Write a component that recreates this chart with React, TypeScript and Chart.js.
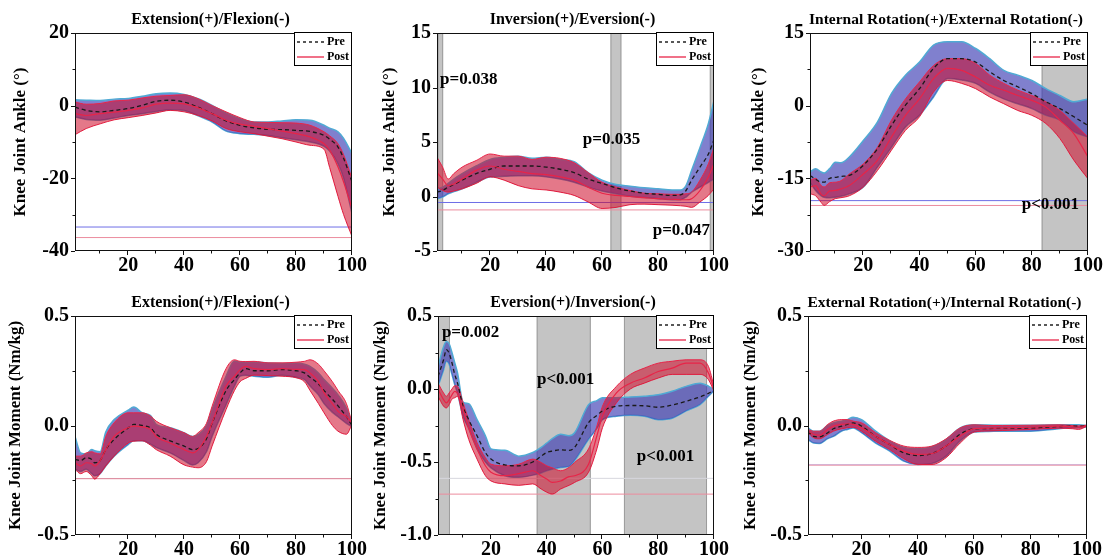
import React, { useEffect, useRef } from 'react';
import { Chart, registerables } from 'chart.js';

Chart.register(...registerables);

const FONT = '"Liberation Serif", "Times New Roman", serif';

// ---------- shared ----------
const X_TICKS = [20, 40, 60, 80, 100];
const X_MINOR = [10, 30, 50, 70, 90];
const LEGEND_LABELS = ['Pre', 'Post'];

// ---------- panel 1 : angle, sagittal ----------
const P1_TITLE = 'Extension(+)/Flexion(-)';
const P1_YLABEL = 'Knee Joint Ankle (°)';
const P1_Y_TICKS = [20, 0, -20, -40];
const P1_Y_MINOR = [10, -10, -30];
const P1_X = [1, 5, 10, 15, 20, 25, 30, 35, 40, 45, 50, 55, 60, 65, 70, 75, 80, 85, 90, 92, 95, 97, 100];
const P1_PRE_MEAN = [-0.4, -1.3, -1.7, -1.3, -0.8, 0.1, 1.2, 1.5, 1.0, -0.4, -2.2, -4.2, -5.4, -6.1, -6.5, -6.6, -6.8, -7.1, -8.2, -9.2, -11.4, -14.5, -21];
const P1_PRE_UP = [1.6, 1.5, 1.4, 1.8, 2.0, 2.6, 3.3, 3.5, 3.1, 1.9, 0.1, -2.0, -3.6, -4.5, -4.5, -4.2, -3.9, -4.0, -5.4, -6.2, -7.2, -9.0, -13.2];
const P1_PRE_LO = [-3.1, -3.8, -4.0, -3.4, -2.7, -2.2, -1.6, -1.1, -1.3, -2.8, -4.5, -7.0, -7.7, -7.9, -8.2, -8.8, -9.4, -10.0, -11.2, -12.5, -16.0, -20.0, -29.7];
const P1_POST_MEAN = [-2.2, -2.7, -2.2, -1.8, -1.3, -0.6, 0.4, 0.7, 0.5, -0.6, -2.2, -4.0, -5.1, -5.7, -6.3, -7.0, -7.7, -8.6, -10.5, -12.2, -16.9, -21.0, -28.3];
const P1_POST_UP = [1.0, 0.4, 0.6, 1.3, 1.5, 2.1, 2.6, 2.8, 3.0, 1.9, 0.0, -1.7, -3.3, -4.5, -4.6, -4.7, -4.8, -5.4, -7.2, -8.3, -10.5, -13.5, -20.0];
const P1_POST_LO = [-8.0, -6.3, -5.0, -3.9, -3.3, -2.7, -2.0, -1.3, -1.7, -2.7, -4.2, -6.3, -7.2, -7.7, -8.4, -9.1, -10.0, -10.9, -12.0, -17.0, -25.0, -30.0, -36.0];
const P1_THRESH = [-33.4, -36.3];
const P1_SHADE: number[][] = [];
const P1_PVALUES: { text: string; x: number; y: number }[] = [];

// ---------- panel 2 : angle, frontal ----------
const P2_TITLE = 'Inversion(+)/Eversion(-)';
const P2_YLABEL = 'Knee Joint Ankle (°)';
const P2_Y_TICKS = [15, 10, 5, 0, -5];
const P2_Y_MINOR: number[] = [];
const P2_X = [1, 3, 5, 7, 10, 15, 20, 25, 30, 35, 40, 45, 50, 55, 60, 65, 70, 75, 80, 85, 88, 90, 92, 95, 98, 100];
const P2_PRE_MEAN = [0.4, 0.55, 0.86, 1.1, 1.5, 2.1, 2.5, 2.8, 2.8, 2.8, 2.7, 2.5, 2.2, 1.6, 1.2, 0.8, 0.5, 0.3, 0.2, 0.1, 0.15, 0.55, 1.5, 2.7, 3.9, 5.2];
const P2_PRE_UP = [0.7, 0.85, 1.2, 1.6, 2.1, 2.8, 3.4, 3.6, 3.7, 3.5, 3.6, 3.4, 3.2, 2.2, 1.5, 1.1, 0.95, 0.8, 0.7, 0.6, 0.6, 1.0, 2.4, 4.5, 6.7, 8.8];
const P2_PRE_LO = [-0.2, -0.05, 0.25, 0.45, 0.7, 1.3, 1.8, 1.85, 1.9, 1.9, 1.8, 1.6, 1.3, 0.86, 0.5, 0.25, 0.03, -0.1, -0.2, -0.3, -0.3, -0.05, 0.4, 0.86, 1.3, 1.6];
const P2_POST_MEAN = [2.2, 1.6, 1.0, 1.15, 1.6, 2.4, 2.8, 2.5, 2.3, 2.1, 2.0, 1.8, 1.5, 0.86, 0.3, 0.1, 0.0, -0.1, -0.2, -0.25, -0.3, -0.3, -0.2, 0.55, 1.8, 3.0];
const P2_POST_UP = [3.6, 2.7, 1.6, 2.1, 2.7, 3.3, 3.9, 3.7, 3.7, 3.4, 3.6, 3.5, 3.1, 2.2, 1.3, 0.86, 0.55, 0.3, 0.25, 0.2, 0.2, 0.25, 0.4, 1.5, 3.0, 4.5];
const P2_POST_LO = [0.86, 0.55, 0.4, 0.5, 0.7, 1.2, 1.8, 1.5, 1.0, 0.7, 0.6, 0.4, 0.1, -0.5, -1.1, -1.0, -0.75, -0.7, -0.75, -0.8, -0.85, -0.9, -1.0, -0.5, 0.1, 0.7];
const P2_THRESH = [-0.55, -1.23];
const P2_SHADE = [[1.2, 3.2], [63.0, 66.9], [98.5, 100]];
const P2_PVALUES = [
  { text: 'p=0.038', x: 2.1, y: 10.7 },
  { text: 'p=0.035', x: 53.1, y: 5.2 },
  { text: 'p=0.047', x: 78.1, y: -3.1 },
];

// ---------- panel 3 : angle, transverse ----------
const P3_TITLE = 'Internal Rotation(+)/External Rotation(-)';
const P3_YLABEL = 'Knee Joint Ankle (°)';
const P3_Y_TICKS = [15, 0, -15, -30];
const P3_Y_MINOR = [7.5, -7.5, -22.5];
const P3_X = [1, 3, 5, 6, 8, 10, 12, 15, 20, 25, 30, 35, 40, 45, 50, 55, 60, 65, 70, 75, 80, 85, 90, 95, 100];
const P3_PRE_MEAN = [-14.4, -15.2, -15.8, -15.8, -15.0, -14.8, -14.6, -14.4, -12.3, -8.9, -4.1, 0.1, 3.5, 7.7, 9.7, 9.7, 9.0, 7.0, 5.2, 3.9, 2.5, 0.8, -0.6, -2.3, -4.1];
const P3_PRE_UP = [-13.7, -13.0, -13.7, -13.9, -13.0, -11.7, -11.8, -10.6, -7.2, -3.4, 2.5, 6.3, 9.0, 12.5, 13.2, 13.2, 11.8, 9.7, 7.3, 6.3, 5.2, 3.5, 2.1, 0.8, 1.4];
const P3_PRE_LO = [-15.8, -17.5, -18.6, -18.9, -19.0, -18.9, -18.7, -18.2, -16.8, -12.7, -8.6, -4.4, -2.0, 1.8, 5.6, 5.3, 4.6, 2.8, 1.4, 0.4, -0.6, -2.0, -3.0, -5.4, -6.5];
const P3_POST_MEAN = [-16.8, -16.5, -18.3, -18.6, -17.6, -17.5, -17.2, -16.5, -14.1, -11.3, -6.5, -2.0, 1.4, 5.6, 7.7, 7.3, 5.9, 4.2, 3.2, 2.1, 1.1, -0.3, -3.0, -5.8, -10.6];
const P3_POST_UP = [-15.4, -15.0, -16.5, -16.8, -15.9, -15.8, -15.5, -14.1, -12.0, -8.6, -3.0, 1.4, 4.9, 8.3, 9.7, 9.7, 8.7, 6.3, 4.6, 3.2, 2.1, 0.8, -1.0, -3.7, -6.5];
const P3_POST_LO = [-18.2, -18.6, -20.0, -20.6, -19.8, -19.2, -19.0, -18.6, -16.8, -13.4, -9.2, -5.1, -2.3, 2.8, 5.2, 4.6, 3.5, 1.8, 0.4, -1.0, -2.0, -3.7, -6.8, -11.3, -15.1];
const P3_THRESH = [-19.6, -20.6];
const P3_SHADE = [[83.5, 100]];
const P3_PVALUES = [{ text: 'p<0.001', x: 76.4, y: -20.5 }];

// ---------- panel 4 : moment, sagittal ----------
const P4_TITLE = 'Extension(+)/Flexion(-)';
const P4_YLABEL = 'Knee Joint Moment (Nm/kg)';
const P4_Y_TICKS = [0.5, 0, -0.5];
const P4_Y_MINOR = [0.25, -0.25];
const P4_X = [1, 3, 5, 7, 8, 10, 12, 15, 20, 22, 25, 28, 30, 35, 40, 43, 45, 48, 50, 55, 58, 60, 62, 65, 70, 75, 80, 83, 85, 88, 90, 93, 95, 98, 100];
const P4_PRE_MEAN = [-0.155, -0.16, -0.147, -0.155, -0.17, -0.16, -0.11, -0.064, -0.011, 0.005, 0.0, -0.011, -0.04, -0.07, -0.094, -0.11, -0.105, -0.06, 0.01, 0.16, 0.21, 0.24, 0.26, 0.25, 0.25, 0.255, 0.25, 0.24, 0.22, 0.19, 0.16, 0.12, 0.09, 0.04, 0.0];
const P4_PRE_UP = [-0.05, -0.125, -0.13, -0.11, -0.115, -0.12, -0.03, 0.027, 0.07, 0.084, 0.058, 0.045, 0.005, -0.01, -0.033, -0.05, -0.042, 0.0, 0.073, 0.225, 0.295, 0.29, 0.29, 0.29, 0.285, 0.283, 0.285, 0.28, 0.27, 0.24, 0.21, 0.17, 0.14, 0.08, 0.01];
const P4_PRE_LO = [-0.2, -0.21, -0.2, -0.22, -0.23, -0.22, -0.185, -0.14, -0.087, -0.07, -0.07, -0.085, -0.1, -0.125, -0.16, -0.18, -0.17, -0.12, -0.05, 0.095, 0.18, 0.225, 0.23, 0.225, 0.22, 0.23, 0.22, 0.21, 0.18, 0.14, 0.1, 0.06, 0.04, 0.01, -0.005];
const P4_POST_MEAN = [-0.17, -0.185, -0.17, -0.175, -0.185, -0.16, -0.11, -0.05, -0.01, -0.003, -0.006, -0.018, -0.05, -0.08, -0.11, -0.125, -0.11, -0.05, 0.012, 0.18, 0.225, 0.255, 0.27, 0.26, 0.255, 0.26, 0.256, 0.255, 0.24, 0.2, 0.15, 0.1, 0.065, 0.04, 0.012];
const P4_POST_UP = [-0.14, -0.14, -0.125, -0.12, -0.125, -0.13, -0.05, 0.012, 0.058, 0.058, 0.058, 0.043, 0.02, -0.01, -0.033, -0.05, -0.033, 0.01, 0.088, 0.26, 0.3, 0.293, 0.292, 0.293, 0.286, 0.286, 0.289, 0.293, 0.3, 0.28, 0.25, 0.2, 0.16, 0.1, 0.012];
const P4_POST_LO = [-0.2, -0.22, -0.21, -0.23, -0.245, -0.22, -0.185, -0.14, -0.08, -0.072, -0.07, -0.09, -0.11, -0.14, -0.18, -0.19, -0.193, -0.165, -0.094, 0.073, 0.16, 0.2, 0.215, 0.23, 0.228, 0.225, 0.218, 0.2, 0.16, 0.1, 0.058, 0.0, -0.026, -0.04, 0.005];
const P4_THRESH = [-0.242, -0.243];
const P4_SHADE: number[][] = [];
const P4_PVALUES: { text: string; x: number; y: number }[] = [];

// ---------- panel 5 : moment, frontal ----------
const P5_TITLE = 'Eversion(+)/Inversion(-)';
const P5_YLABEL = 'Knee Joint Moment (Nm/kg)';
const P5_Y_TICKS = [0.5, 0, -0.5, -1.0];
const P5_Y_MINOR = [0.25, -0.25, -0.75];
const P5_X = [1, 3, 4, 5, 6, 7, 8, 10, 12, 15, 18, 20, 25, 30, 35, 38, 40, 42, 45, 48, 50, 55, 58, 60, 65, 70, 75, 80, 85, 90, 95, 98, 100];
const P5_PRE_MEAN = [0.086, 0.2, 0.27, 0.245, 0.18, 0.1, 0.04, -0.12, -0.21, -0.32, -0.435, -0.48, -0.52, -0.526, -0.5, -0.46, -0.435, -0.425, -0.417, -0.42, -0.4, -0.23, -0.18, -0.15, -0.118, -0.113, -0.115, -0.125, -0.11, -0.084, -0.054, -0.03, -0.005];
const P5_PRE_UP = [0.154, 0.29, 0.325, 0.31, 0.25, 0.18, 0.11, -0.09, -0.1, -0.21, -0.32, -0.41, -0.42, -0.46, -0.435, -0.4, -0.37, -0.34, -0.31, -0.32, -0.3, -0.107, -0.08, -0.06, -0.06, -0.054, -0.05, -0.04, -0.015, 0.018, 0.04, 0.02, -0.005];
const P5_PRE_LO = [0.018, 0.13, 0.19, 0.17, 0.1, 0.03, -0.03, -0.186, -0.27, -0.41, -0.5, -0.54, -0.594, -0.605, -0.59, -0.575, -0.56, -0.55, -0.537, -0.53, -0.49, -0.345, -0.27, -0.21, -0.186, -0.18, -0.186, -0.21, -0.2, -0.15, -0.107, -0.05, -0.01];
const P5_POST_MEAN = [0.0, -0.073, -0.095, -0.073, -0.04, -0.016, -0.03, -0.14, -0.265, -0.41, -0.526, -0.57, -0.594, -0.58, -0.56, -0.594, -0.617, -0.64, -0.63, -0.6, -0.594, -0.515, -0.32, -0.186, -0.027, 0.04, 0.075, 0.12, 0.143, 0.177, 0.177, 0.11, 0.0];
const P5_POST_UP = [0.04, -0.027, -0.05, -0.027, 0.0, 0.022, 0.018, -0.095, -0.21, -0.367, -0.47, -0.515, -0.526, -0.515, -0.48, -0.503, -0.526, -0.54, -0.56, -0.537, -0.503, -0.41, -0.254, -0.118, 0.018, 0.1, 0.143, 0.177, 0.19, 0.2, 0.2, 0.155, 0.018];
const P5_POST_LO = [-0.05, -0.118, -0.13, -0.107, -0.07, -0.06, -0.05, -0.21, -0.345, -0.48, -0.594, -0.63, -0.65, -0.66, -0.65, -0.685, -0.707, -0.72, -0.685, -0.66, -0.64, -0.57, -0.41, -0.265, -0.095, 0.0, 0.04, 0.075, 0.1, 0.1, 0.1, 0.064, -0.016];
const P5_THRESH = [-0.612, -0.72];
const P5_SHADE = [[1, 5.3], [36.4, 55.8], [67.7, 97.5]];
const P5_PVALUES = [
  { text: 'p=0.002', x: 2.4, y: 0.384 },
  { text: 'p<0.001', x: 36.5, y: 0.062 },
  { text: 'p<0.001', x: 72.3, y: -0.466 },
];

// ---------- panel 6 : moment, transverse ----------
const P6_TITLE = 'External Rotation(+)/Internal Rotation(-)';
const P6_YLABEL = 'Knee Joint Moment (Nm/kg)';
const P6_Y_TICKS = [0.5, 0, -0.5];
const P6_Y_MINOR = [0.25, -0.25];
const P6_X = [1, 3, 5, 8, 10, 13, 15, 17, 20, 25, 30, 35, 40, 45, 50, 55, 60, 65, 70, 80, 90, 95, 97, 100];
const P6_PRE_MEAN = [-0.026, -0.05, -0.052, -0.033, -0.015, -0.003, 0.005, 0.012, -0.003, -0.05, -0.087, -0.125, -0.137, -0.128, -0.094, -0.04, -0.015, -0.014, -0.012, -0.011, -0.005, -0.003, -0.003, -0.003];
const P6_PRE_UP = [-0.011, -0.026, -0.026, 0.0, 0.012, 0.02, 0.027, 0.038, 0.027, -0.026, -0.07, -0.1, -0.106, -0.097, -0.064, -0.011, 0.003, 0.002, 0.001, 0.001, 0.003, 0.003, 0.003, 0.0];
const P6_PRE_LO = [-0.064, -0.08, -0.082, -0.06, -0.05, -0.025, -0.018, -0.011, -0.033, -0.08, -0.117, -0.163, -0.178, -0.173, -0.14, -0.07, -0.03, -0.027, -0.026, -0.026, -0.015, -0.01, -0.01, -0.006];
const P6_POST_MEAN = [-0.026, -0.04, -0.045, -0.018, -0.003, 0.005, 0.008, 0.005, -0.011, -0.05, -0.087, -0.117, -0.132, -0.128, -0.094, -0.048, -0.014, -0.012, -0.011, -0.008, -0.003, -0.006, -0.008, -0.003];
const P6_POST_UP = [-0.018, -0.026, -0.026, 0.005, 0.02, 0.027, 0.027, 0.02, 0.012, -0.033, -0.068, -0.094, -0.1, -0.094, -0.061, -0.011, 0.003, 0.0, 0.0, 0.001, 0.003, 0.0, -0.002, 0.002];
const P6_POST_LO = [-0.033, -0.056, -0.061, -0.041, -0.026, -0.015, -0.01, -0.008, -0.026, -0.072, -0.11, -0.152, -0.178, -0.178, -0.147, -0.08, -0.03, -0.025, -0.023, -0.018, -0.012, -0.015, -0.018, -0.003];
const P6_THRESH = [-0.179, -0.181];
const P6_SHADE: number[][] = [];
const P6_PVALUES: { text: string; x: number; y: number }[] = [];

// ---------- styles ----------
const RED = 'rgb(232,36,72)';
const TEAL = 'rgb(80,170,212)';
const PRE_FILL = 'rgba(60,60,180,0.65)';
const POST_FILL = 'rgba(205,10,40,0.55)';
const THRESH_PRE = ['rgb(110,110,230)', 'rgb(110,110,230)', 'rgb(110,110,230)', 'rgb(170,170,190)', 'rgb(215,215,222)', 'rgb(190,190,240)'];
const THRESH_POST = 'rgb(236,140,158)';

interface Pv { text: string; x: number; y: number }
interface PanelCfg {
  title: string; titleSize: number; ylabel: string; yTicks: number[]; yMinor: number[]; decimals: number;
  x: number[]; preM: number[]; preU: number[]; preL: number[]; postM: number[]; postU: number[]; postL: number[];
  thresh: number[]; threshPre: string; shade: number[][]; pv: Pv[];
  col: number; row: number; area: { l: number; r: number; t: number; b: number }; ylabelX: number;
}

const PANELS: PanelCfg[] = [
  { title: P1_TITLE, titleSize: 16, ylabel: P1_YLABEL, yTicks: P1_Y_TICKS, yMinor: P1_Y_MINOR, decimals: 0, x: P1_X, preM: P1_PRE_MEAN, preU: P1_PRE_UP, preL: P1_PRE_LO, postM: P1_POST_MEAN, postU: P1_POST_UP, postL: P1_POST_LO, thresh: P1_THRESH, threshPre: THRESH_PRE[0], shade: P1_SHADE, pv: P1_PVALUES, col: 0, row: 0, area: { l: 75, r: 352, t: 33, b: 251 }, ylabelX: 21 },
  { title: P2_TITLE, titleSize: 16, ylabel: P2_YLABEL, yTicks: P2_Y_TICKS, yMinor: P2_Y_MINOR, decimals: 0, x: P2_X, preM: P2_PRE_MEAN, preU: P2_PRE_UP, preL: P2_PRE_LO, postM: P2_POST_MEAN, postU: P2_POST_UP, postL: P2_POST_LO, thresh: P2_THRESH, threshPre: THRESH_PRE[1], shade: P2_SHADE, pv: P2_PVALUES, col: 1, row: 0, area: { l: 67, r: 344, t: 33, b: 251 }, ylabelX: 20 },
  { title: P3_TITLE, titleSize: 15.5, ylabel: P3_YLABEL, yTicks: P3_Y_TICKS, yMinor: P3_Y_MINOR, decimals: 0, x: P3_X, preM: P3_PRE_MEAN, preU: P3_PRE_UP, preL: P3_PRE_LO, postM: P3_POST_MEAN, postU: P3_POST_UP, postL: P3_POST_LO, thresh: P3_THRESH, threshPre: THRESH_PRE[2], shade: P3_SHADE, pv: P3_PVALUES, col: 2, row: 0, area: { l: 70, r: 348, t: 33, b: 251 }, ylabelX: 19 },
  { title: P4_TITLE, titleSize: 16, ylabel: P4_YLABEL, yTicks: P4_Y_TICKS, yMinor: P4_Y_MINOR, decimals: 1, x: P4_X, preM: P4_PRE_MEAN, preU: P4_PRE_UP, preL: P4_PRE_LO, postM: P4_POST_MEAN, postU: P4_POST_UP, postL: P4_POST_LO, thresh: P4_THRESH, threshPre: THRESH_PRE[3], shade: P4_SHADE, pv: P4_PVALUES, col: 0, row: 1, area: { l: 75, r: 352, t: 36, b: 255 }, ylabelX: 16 },
  { title: P5_TITLE, titleSize: 16, ylabel: P5_YLABEL, yTicks: P5_Y_TICKS, yMinor: P5_Y_MINOR, decimals: 1, x: P5_X, preM: P5_PRE_MEAN, preU: P5_PRE_UP, preL: P5_PRE_LO, postM: P5_POST_MEAN, postU: P5_POST_UP, postL: P5_POST_LO, thresh: P5_THRESH, threshPre: THRESH_PRE[4], shade: P5_SHADE, pv: P5_PVALUES, col: 1, row: 1, area: { l: 68, r: 344, t: 36, b: 255 }, ylabelX: 11 },
  { title: P6_TITLE, titleSize: 15.5, ylabel: P6_YLABEL, yTicks: P6_Y_TICKS, yMinor: P6_Y_MINOR, decimals: 1, x: P6_X, preM: P6_PRE_MEAN, preU: P6_PRE_UP, preL: P6_PRE_LO, postM: P6_POST_MEAN, postU: P6_POST_UP, postL: P6_POST_LO, thresh: P6_THRESH, threshPre: THRESH_PRE[5], shade: P6_SHADE, pv: P6_PVALUES, col: 2, row: 1, area: { l: 68, r: 347, t: 36, b: 255 }, ylabelX: 11 },
];

const W = 370;
const H = 280;
const YAXIS_W = 50;
const XAXIS_H = 25;

function makeChart(canvas: HTMLCanvasElement, p: PanelCfg) {
  const pts = (ys: number[]) => p.x.map((x, i) => ({ x, y: ys[i] }));
  const xMin = p.x[0];
  const xMax = p.x[p.x.length - 1];
  const flat = (v: number) => [{ x: xMin, y: v }, { x: xMax, y: v }];
  const yMax = Math.max(...p.yTicks);
  const yMin = Math.min(...p.yTicks);
  const tickFont = { family: FONT, size: 20, weight: 'bold' as const };

  const decor = {
    id: 'decor',
    beforeDatasetsDraw(chart: any) {
      const { ctx, chartArea: a, scales } = chart;
      const xs = scales.x;
      ctx.save();
      for (const [s, e] of p.shade) {
        const x0 = xs.getPixelForValue(s);
        const x1 = xs.getPixelForValue(e);
        ctx.fillStyle = '#c4c4c4';
        ctx.fillRect(x0, a.top, x1 - x0, a.bottom - a.top);
        ctx.strokeStyle = '#9c9c9c';
        ctx.lineWidth = 1;
        ctx.beginPath();
        ctx.moveTo(x0 + 0.5, a.top);
        ctx.lineTo(x0 + 0.5, a.bottom);
        ctx.moveTo(x1 - 0.5, a.top);
        ctx.lineTo(x1 - 0.5, a.bottom);
        ctx.stroke();
      }
      ctx.restore();
    },
    afterDraw(chart: any) {
      const { ctx, chartArea: a, scales } = chart;
      const xs = scales.x;
      const ys = scales.y;
      ctx.save();
      // frame
      ctx.strokeStyle = '#111';
      ctx.lineWidth = 1;
      ctx.strokeRect(Math.round(a.left) + 0.5, Math.round(a.top) + 0.5, Math.round(a.right - a.left) - 1, Math.round(a.bottom - a.top) - 1);
      // ticks
      ctx.beginPath();
      for (const v of X_TICKS) {
        const px = Math.round(xs.getPixelForValue(v)) - 0.5;
        ctx.moveTo(px, a.bottom);
        ctx.lineTo(px, a.bottom + 4);
      }
      for (const v of X_MINOR) {
        const px = Math.round(xs.getPixelForValue(v)) - 0.5;
        ctx.moveTo(px, a.bottom);
        ctx.lineTo(px, a.bottom + 2.5);
      }
      for (const v of p.yTicks) {
        const py = Math.round(ys.getPixelForValue(v)) + 0.5;
        ctx.moveTo(a.left, py);
        ctx.lineTo(a.left - 4, py);
      }
      for (const v of p.yMinor) {
        const py = Math.round(ys.getPixelForValue(v)) + 0.5;
        ctx.moveTo(a.left, py);
        ctx.lineTo(a.left - 2.5, py);
      }
      ctx.stroke();

      // title
      ctx.fillStyle = '#000';
      ctx.font = `bold ${p.titleSize}px ${FONT}`;
      ctx.textAlign = 'center';
      ctx.textBaseline = 'alphabetic';
      ctx.fillText(p.title, (a.left + a.right) / 2 - 3, a.top - 9);

      // y label
      ctx.save();
      ctx.translate(p.ylabelX, (a.top + a.bottom) / 2);
      ctx.rotate(-Math.PI / 2);
      ctx.font = `bold 17px ${FONT}`;
      ctx.textAlign = 'center';
      ctx.textBaseline = 'middle';
      ctx.fillText(p.ylabel, 0, 0);
      ctx.restore();

      // p-values
      ctx.font = `bold 17px ${FONT}`;
      ctx.textAlign = 'left';
      ctx.textBaseline = 'middle';
      for (const t of p.pv) {
        ctx.fillText(t.text, xs.getPixelForValue(t.x), ys.getPixelForValue(t.y));
      }

      // legend box
      const bw = 58;
      const bh = 34;
      const bx = Math.round(a.right) - bw;
      const by = Math.round(a.top) - 1;
      ctx.fillStyle = '#fff';
      ctx.fillRect(bx, by, bw, bh);
      ctx.strokeStyle = '#000';
      ctx.lineWidth = 1;
      ctx.strokeRect(bx + 0.5, by + 0.5, bw - 1, bh - 1);
      ctx.strokeStyle = '#222';
      ctx.lineWidth = 1.3;
      ctx.setLineDash([3, 3]);
      ctx.beginPath();
      ctx.moveTo(bx + 3, by + 10);
      ctx.lineTo(bx + 30, by + 10);
      ctx.stroke();
      ctx.setLineDash([]);
      ctx.strokeStyle = RED;
      ctx.beginPath();
      ctx.moveTo(bx + 3, by + 25);
      ctx.lineTo(bx + 30, by + 25);
      ctx.stroke();
      ctx.fillStyle = '#000';
      ctx.font = `bold 12px ${FONT}`;
      ctx.textAlign = 'left';
      ctx.textBaseline = 'middle';
      ctx.fillText(LEGEND_LABELS[0], bx + 33, by + 10);
      ctx.fillText(LEGEND_LABELS[1], bx + 33, by + 25);
      ctx.restore();
    },
  };

  return new Chart(canvas, {
    type: 'line',
    data: {
      datasets: [
        { label: 'Post', data: pts(p.postM), borderColor: RED, borderWidth: 1.2, fill: false },
        { label: 'Pre', data: pts(p.preM), borderColor: '#1a1a1a', borderDash: [4, 3], borderWidth: 1.3, fill: false },
        { label: 'Post +SD', data: pts(p.postU), borderColor: RED, borderWidth: 1, fill: '+1', backgroundColor: POST_FILL },
        { label: 'Post -SD', data: pts(p.postL), borderColor: RED, borderWidth: 1, fill: false },
        { label: 'Pre +SD', data: pts(p.preU), borderColor: TEAL, borderWidth: 1.5, fill: '+1', backgroundColor: PRE_FILL },
        { label: 'Pre -SD', data: pts(p.preL), borderColor: TEAL, borderWidth: 1.5, fill: false },
        { label: 'Post threshold', data: flat(p.thresh[1]), borderColor: THRESH_POST, borderWidth: 1, fill: false, cubicInterpolationMode: 'default', tension: 0 },
        { label: 'Pre threshold', data: flat(p.thresh[0]), borderColor: p.threshPre, borderWidth: 1, fill: false, cubicInterpolationMode: 'default', tension: 0 },
      ] as any,
    },
    options: {
      animation: false,
      responsive: false,
      events: [],
      layout: { padding: { left: p.area.l - YAXIS_W, right: W - p.area.r, top: p.area.t, bottom: H - p.area.b - XAXIS_H } },
      plugins: { legend: { display: false }, tooltip: { enabled: false }, title: { display: false } },
      elements: { point: { radius: 0 }, line: { cubicInterpolationMode: 'monotone' } },
      scales: {
        x: {
          type: 'linear', min: xMin, max: xMax,
          grid: { display: false, drawTicks: false },
          border: { display: false },
          afterBuildTicks: (s: any) => { s.ticks = X_TICKS.map((v) => ({ value: v })); },
          afterFit: (s: any) => { s.height = XAXIS_H; },
          ticks: { font: tickFont, color: '#000', padding: 3, maxRotation: 0, autoSkip: false, callback: (v: any) => String(v) },
        },
        y: {
          type: 'linear', min: yMin, max: yMax,
          grid: { display: false, drawTicks: false },
          border: { display: false },
          afterBuildTicks: (s: any) => { s.ticks = p.yTicks.map((v) => ({ value: v })); },
          afterFit: (s: any) => { s.width = YAXIS_W; },
          ticks: { font: tickFont, color: '#000', padding: 6, autoSkip: false, callback: (v: any) => Number(v).toFixed(p.decimals) },
        },
      },
    } as any,
    plugins: [decor],
  });
}

function Panel({ p }: { p: PanelCfg }) {
  const ref = useRef<HTMLCanvasElement>(null);
  useEffect(() => {
    const chart = makeChart(ref.current as HTMLCanvasElement, p);
    return () => chart.destroy();
  }, [p]);
  return (
    <canvas
      ref={ref}
      width={W}
      height={H}
      style={{ position: 'absolute', left: p.col * W, top: p.row * H, width: W, height: H }}
    />
  );
}

export default function App() {
  return (
    <div style={{ position: 'fixed', left: 0, top: 0, width: 1110, height: 560, background: '#fff', overflow: 'hidden' }}>
      {PANELS.map((p, i) => (
        <Panel key={i} p={p} />
      ))}
    </div>
  );
}
